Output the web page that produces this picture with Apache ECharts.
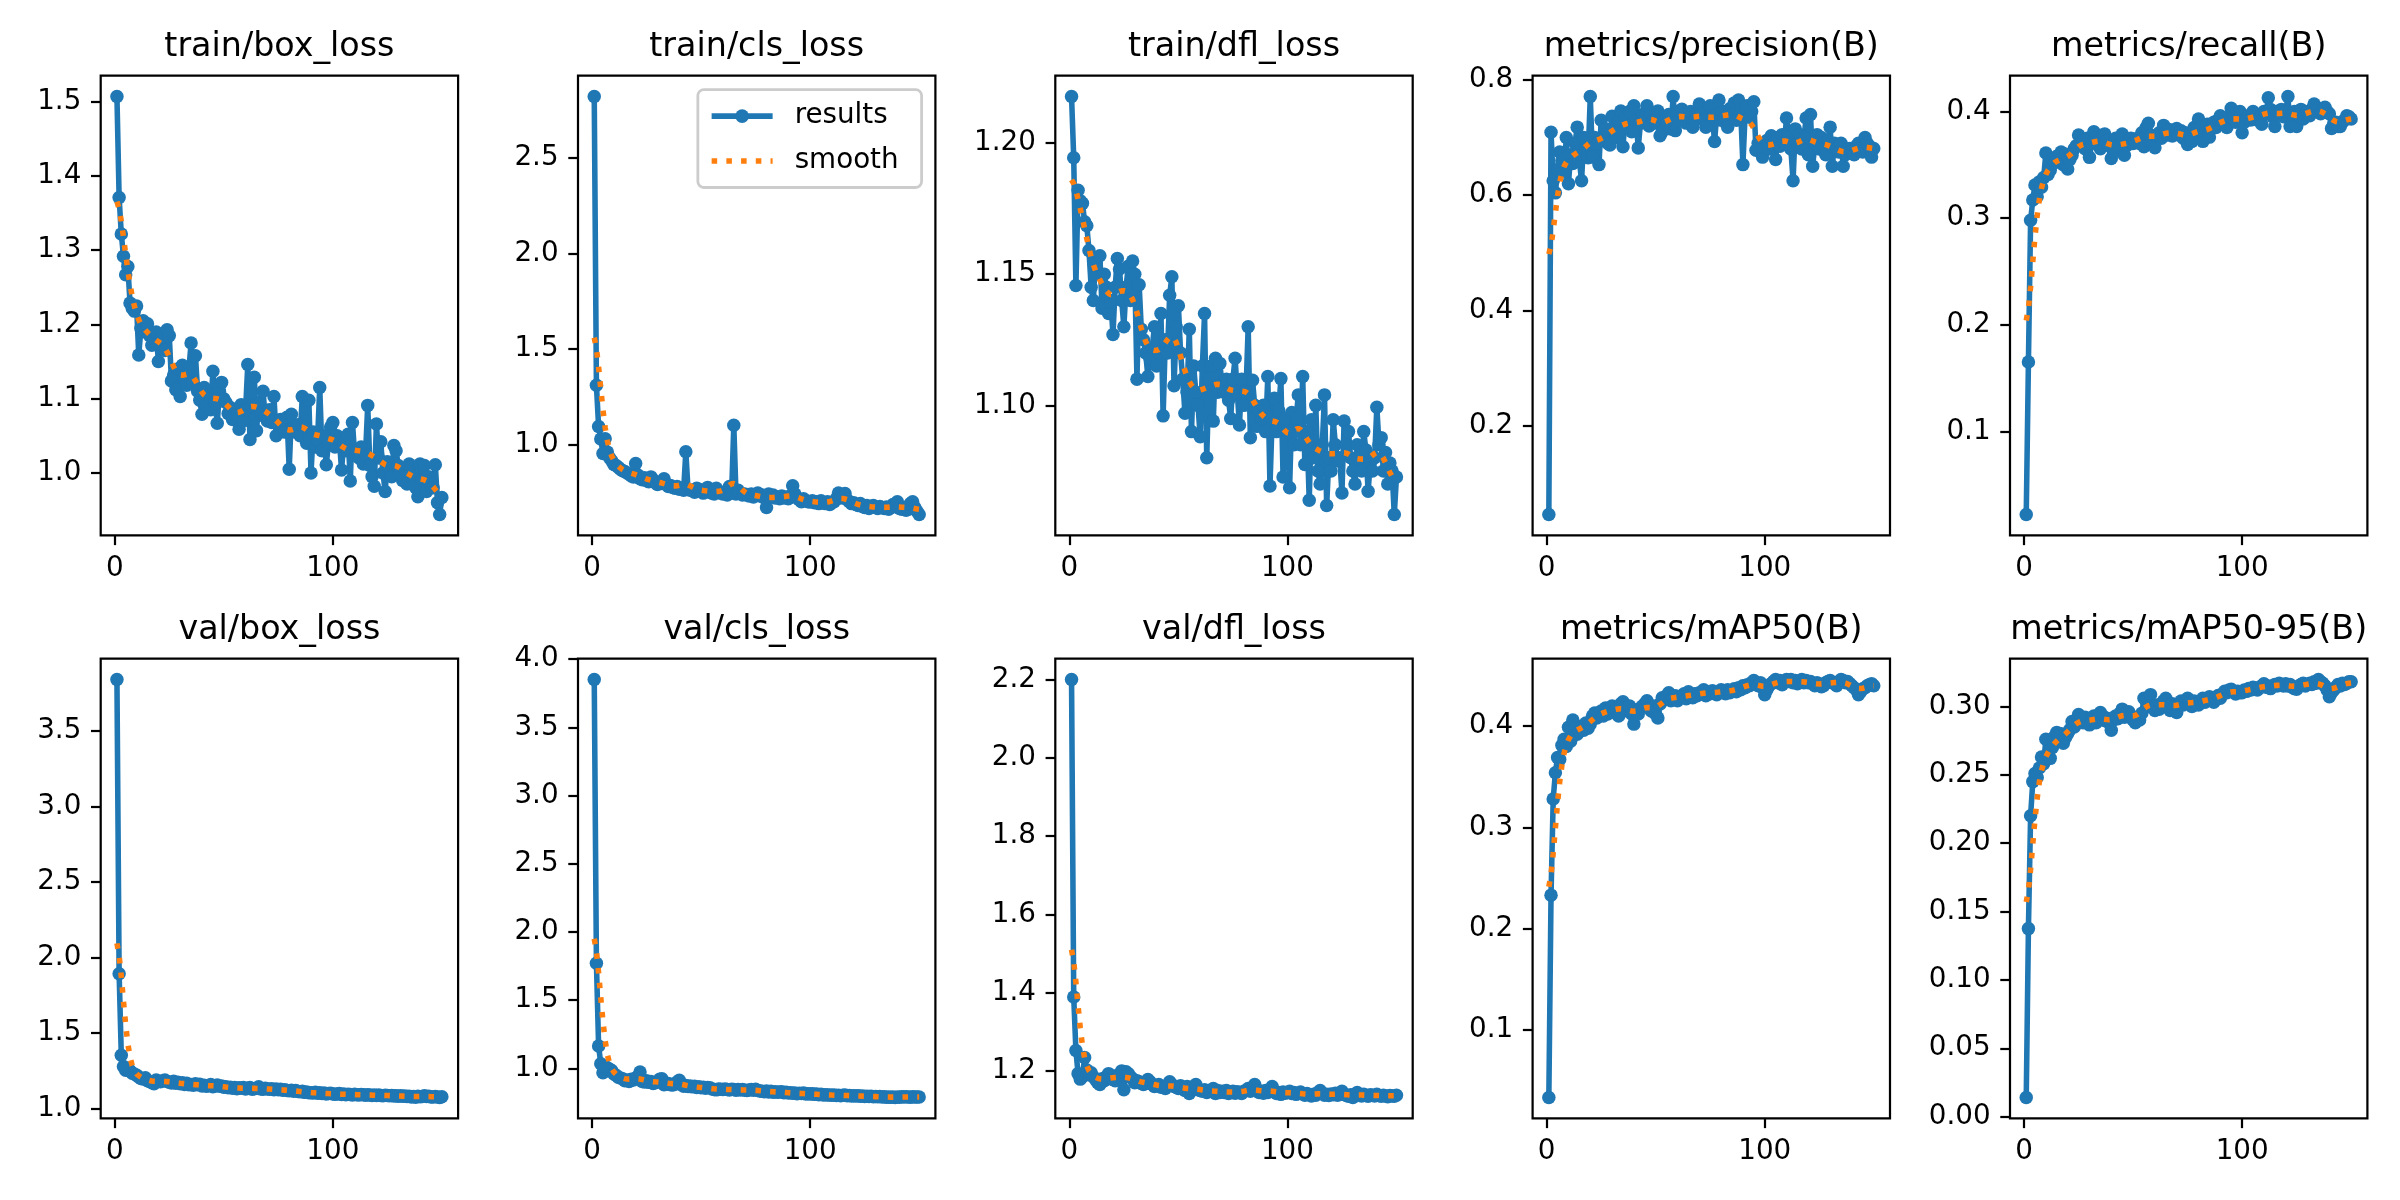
<!DOCTYPE html>
<html><head><meta charset="utf-8">
<script src="https://cdn.jsdelivr.net/npm/echarts@6/dist/echarts.min.js"></script>
<style>html,body{margin:0;padding:0;background:#fff}#c{width:2400px;height:1200px}</style>
</head><body><div id="c"></div>
<script>
// ---------------- DATA ----------------
const epochs = Array.from({length:150},(_,i)=>i+1);

const titles = ['train/box_loss','train/cls_loss','train/dfl_loss','metrics/precision(B)','metrics/recall(B)',
                'val/box_loss','val/cls_loss','val/dfl_loss','metrics/mAP50(B)','metrics/mAP50-95(B)'];

const trainBoxLoss = [1.507,1.371,1.322,1.292,1.267,1.278,1.229,1.222,1.218,1.225,
1.159,1.195,1.205,1.190,1.201,1.185,1.172,1.183,1.190,1.150,
1.180,1.185,1.165,1.193,1.185,1.124,1.132,1.112,1.140,1.103,
1.145,1.130,1.118,1.140,1.175,1.120,1.158,1.110,1.098,1.079,
1.115,1.090,1.105,1.085,1.137,1.095,1.067,1.110,1.122,1.100,
1.095,1.080,1.088,1.072,1.085,1.078,1.059,1.092,1.070,1.085,
1.146,1.045,1.090,1.129,1.057,1.095,1.080,1.110,1.075,1.070,
1.085,1.068,1.103,1.050,1.065,1.072,1.060,1.055,1.075,1.005,
1.079,1.060,1.055,1.065,1.050,1.103,1.062,1.040,1.098,1.000,
1.055,1.035,1.045,1.115,1.030,1.050,1.011,1.040,1.062,1.068,
1.035,1.050,1.045,1.004,1.040,1.030,1.052,0.989,1.068,1.025,
1.030,1.020,1.035,1.012,1.025,1.091,1.010,0.995,0.982,1.066,
1.020,1.042,1.000,0.975,1.015,1.005,0.995,1.037,1.030,1.010,
1.000,0.990,1.005,0.985,1.012,1.008,0.995,0.980,0.968,1.012,
0.990,1.010,0.975,0.995,0.985,0.980,1.011,0.960,0.944,0.967];

const trainClsLoss = [2.822,1.310,1.094,1.028,0.953,1.030,0.960,0.930,0.915,0.895,
0.890,0.880,0.870,0.862,0.858,0.850,0.845,0.835,0.830,0.900,
0.840,0.820,0.815,0.825,0.810,0.805,0.830,0.815,0.800,0.790,
0.800,0.795,0.820,0.790,0.780,0.785,0.775,0.770,0.780,0.765,
0.770,0.760,0.962,0.765,0.760,0.758,0.750,0.770,0.765,0.755,
0.745,0.760,0.775,0.750,0.745,0.740,0.770,0.755,0.745,0.740,
0.750,0.735,0.780,0.745,1.100,0.740,0.760,0.745,0.735,0.740,
0.735,0.730,0.740,0.725,0.735,0.745,0.730,0.735,0.720,0.670,
0.740,0.725,0.735,0.720,0.725,0.715,0.730,0.720,0.725,0.715,
0.730,0.783,0.740,0.720,0.710,0.700,0.715,0.705,0.700,0.698,
0.705,0.695,0.700,0.690,0.705,0.695,0.690,0.700,0.685,0.695,
0.700,0.715,0.746,0.720,0.725,0.743,0.710,0.700,0.690,0.695,
0.685,0.680,0.690,0.675,0.670,0.680,0.665,0.675,0.680,0.670,
0.665,0.675,0.670,0.665,0.672,0.660,0.668,0.685,0.675,0.700,
0.665,0.660,0.670,0.655,0.660,0.690,0.700,0.670,0.650,0.633];

const trainDflLoss = [1.2177,1.1944,1.1457,1.182,1.178,1.177,1.170,1.1685,1.159,1.145,
1.140,1.156,1.150,1.157,1.137,1.150,1.145,1.135,1.140,1.127,
1.145,1.156,1.152,1.140,1.130,1.145,1.153,1.140,1.155,1.150,
1.110,1.146,1.129,1.125,1.120,1.111,1.118,1.122,1.130,1.115,
1.120,1.135,1.096,1.125,1.120,1.142,1.149,1.1075,1.130,1.138,
1.120,1.110,1.097,1.105,1.129,1.090,1.115,1.105,1.100,1.088,
1.115,1.135,1.080,1.110,1.115,1.094,1.118,1.105,1.116,1.108,
1.105,1.110,1.102,1.095,1.110,1.118,1.105,1.0925,1.110,1.100,
1.105,1.130,1.0877,1.1096,1.100,1.092,1.098,1.095,1.100,1.090,
1.111,1.0693,1.095,1.1027,1.090,1.098,1.1102,1.0727,1.095,1.090,
1.0686,1.0973,1.085,1.095,1.104,1.085,1.111,1.0775,1.090,1.0638,
1.0945,1.080,1.100,1.075,1.070,1.085,1.104,1.0618,1.080,1.075,
1.0945,1.085,1.0789,1.080,1.0666,1.094,1.085,1.090,1.080,1.075,
1.070,1.085,1.080,1.075,1.090,1.083,1.0673,1.078,1.075,1.080,
1.0993,1.085,1.0877,1.075,1.082,1.070,1.078,1.075,1.0584,1.0727];

const precisionB = [0.046,0.709,0.625,0.604,0.644,0.675,0.660,0.640,0.700,0.620,
0.670,0.655,0.690,0.718,0.660,0.625,0.700,0.680,0.665,0.771,
0.666,0.700,0.690,0.653,0.730,0.700,0.715,0.690,0.687,0.737,
0.720,0.700,0.730,0.746,0.684,0.735,0.720,0.745,0.710,0.755,
0.730,0.682,0.725,0.740,0.735,0.755,0.720,0.740,0.730,0.725,
0.746,0.703,0.710,0.730,0.725,0.740,0.715,0.771,0.712,0.745,
0.730,0.749,0.740,0.725,0.735,0.745,0.718,0.730,0.740,0.758,
0.740,0.730,0.718,0.745,0.755,0.735,0.693,0.740,0.765,0.730,
0.745,0.735,0.718,0.750,0.740,0.760,0.730,0.765,0.745,0.653,
0.740,0.755,0.735,0.745,0.762,0.678,0.690,0.680,0.666,0.685,
0.695,0.680,0.703,0.690,0.662,0.700,0.685,0.705,0.690,0.734,
0.700,0.680,0.625,0.715,0.690,0.705,0.680,0.700,0.734,0.670,
0.740,0.650,0.690,0.705,0.680,0.700,0.690,0.670,0.695,0.718,
0.650,0.690,0.680,0.675,0.690,0.650,0.670,0.680,0.681,0.675,
0.670,0.685,0.690,0.680,0.675,0.700,0.690,0.685,0.666,0.681];

const recallB = [0.022,0.165,0.298,0.317,0.331,0.320,0.334,0.329,0.338,0.361,
0.341,0.345,0.355,0.352,0.358,0.355,0.362,0.350,0.360,0.346,
0.355,0.359,0.365,0.368,0.378,0.370,0.372,0.365,0.375,0.357,
0.370,0.381,0.375,0.372,0.365,0.378,0.379,0.372,0.368,0.356,
0.362,0.375,0.370,0.368,0.379,0.359,0.368,0.372,0.375,0.370,
0.372,0.375,0.370,0.380,0.367,0.385,0.389,0.378,0.370,0.366,
0.378,0.380,0.375,0.387,0.380,0.378,0.383,0.377,0.380,0.384,
0.378,0.382,0.375,0.380,0.369,0.378,0.372,0.385,0.380,0.393,
0.385,0.372,0.380,0.388,0.376,0.384,0.390,0.385,0.392,0.396,
0.388,0.390,0.385,0.395,0.403,0.392,0.390,0.396,0.400,0.380,
0.390,0.394,0.396,0.392,0.400,0.398,0.392,0.395,0.388,0.400,
0.398,0.413,0.402,0.395,0.386,0.400,0.398,0.402,0.395,0.400,
0.414,0.386,0.398,0.400,0.386,0.395,0.402,0.393,0.398,0.400,
0.396,0.402,0.407,0.400,0.403,0.398,0.400,0.404,0.400,0.398,
0.384,0.388,0.390,0.386,0.386,0.390,0.392,0.396,0.395,0.393];

const valBoxLoss = [3.838,1.893,1.354,1.279,1.255,1.267,1.250,1.235,1.230,1.222,
1.210,1.200,1.196,1.205,1.185,1.180,1.172,1.165,1.190,1.182,
1.178,1.185,1.190,1.180,1.175,1.170,1.182,1.168,1.175,1.165,
1.172,1.160,1.168,1.158,1.160,1.155,1.165,1.158,1.162,1.150,
1.155,1.148,1.152,1.160,1.145,1.150,1.156,1.148,1.150,1.142,
1.145,1.138,1.142,1.135,1.140,1.132,1.138,1.135,1.140,1.130,
1.135,1.140,1.128,1.132,1.136,1.145,1.130,1.128,1.135,1.130,
1.128,1.132,1.125,1.130,1.126,1.128,1.122,1.125,1.120,1.118,
1.122,1.116,1.120,1.114,1.112,1.115,1.108,1.110,1.105,1.106,
1.104,1.108,1.102,1.105,1.100,1.103,1.098,1.100,1.102,1.097,
1.095,1.098,1.100,1.094,1.097,1.092,1.096,1.094,1.091,1.095,
1.093,1.090,1.094,1.092,1.089,1.093,1.090,1.088,1.091,1.087,
1.090,1.088,1.086,1.089,1.087,1.085,1.088,1.084,1.086,1.083,
1.085,1.082,1.084,1.080,1.083,1.078,1.080,1.076,1.082,1.079,
1.081,1.085,1.080,1.083,1.078,1.077,1.080,1.078,1.074,1.079];

const valClsLoss = [3.850,1.771,1.165,1.034,0.969,1.013,1.005,0.995,0.985,0.960,
0.950,0.935,0.930,0.925,0.910,0.915,0.905,0.920,0.915,0.930,
0.940,0.974,0.905,0.900,0.910,0.898,0.905,0.890,0.895,0.900,
0.920,0.925,0.880,0.885,0.890,0.880,0.878,0.885,0.900,0.914,
0.880,0.870,0.875,0.868,0.872,0.865,0.870,0.860,0.865,0.858,
0.862,0.855,0.860,0.858,0.850,0.845,0.843,0.850,0.848,0.845,
0.850,0.846,0.842,0.848,0.845,0.840,0.846,0.842,0.845,0.840,
0.838,0.842,0.845,0.840,0.848,0.838,0.835,0.832,0.830,0.835,
0.828,0.832,0.826,0.830,0.825,0.828,0.830,0.822,0.825,0.820,
0.822,0.818,0.820,0.815,0.818,0.816,0.820,0.812,0.815,0.812,
0.815,0.810,0.812,0.808,0.810,0.806,0.808,0.805,0.806,0.803,
0.805,0.802,0.804,0.800,0.803,0.805,0.800,0.802,0.798,0.800,
0.798,0.800,0.796,0.798,0.795,0.797,0.794,0.796,0.793,0.795,
0.792,0.794,0.790,0.792,0.789,0.791,0.788,0.790,0.787,0.791,
0.789,0.792,0.790,0.793,0.791,0.789,0.792,0.790,0.791,0.790];

const valDflLoss = [2.200,1.389,1.252,1.193,1.179,1.185,1.234,1.202,1.190,1.195,
1.185,1.178,1.170,1.165,1.180,1.175,1.185,1.193,1.180,1.178,
1.175,1.188,1.192,1.200,1.152,1.198,1.193,1.185,1.180,1.170,
1.175,1.172,1.168,1.165,1.170,1.178,1.172,1.165,1.160,1.162,
1.165,1.158,1.160,1.155,1.162,1.172,1.165,1.160,1.158,1.155,
1.162,1.158,1.150,1.160,1.142,1.155,1.160,1.165,1.152,1.150,
1.148,1.152,1.145,1.150,1.148,1.155,1.142,1.150,1.145,1.148,
1.145,1.150,1.142,1.146,1.148,1.143,1.147,1.145,1.142,1.148,
1.150,1.155,1.148,1.152,1.165,1.150,1.145,1.148,1.143,1.150,
1.145,1.152,1.160,1.148,1.142,1.145,1.140,1.146,1.143,1.145,
1.148,1.142,1.145,1.140,1.143,1.146,1.141,1.138,1.142,1.139,
1.136,1.140,1.138,1.145,1.150,1.142,1.138,1.140,1.137,1.141,
1.139,1.143,1.138,1.141,1.148,1.140,1.137,1.135,1.139,1.132,
1.140,1.145,1.138,1.136,1.140,1.137,1.135,1.139,1.138,1.136,
1.140,1.137,1.135,1.138,1.136,1.134,1.137,1.136,1.135,1.138];

const mAP50B = [0.033,0.233,0.328,0.354,0.369,0.367,0.381,0.387,0.380,0.399,
0.385,0.406,0.398,0.392,0.395,0.400,0.396,0.403,0.398,0.402,
0.410,0.413,0.408,0.412,0.415,0.410,0.418,0.412,0.416,0.420,
0.414,0.418,0.410,0.422,0.424,0.418,0.415,0.420,0.412,0.402,
0.416,0.412,0.418,0.420,0.422,0.425,0.418,0.415,0.420,0.412,
0.408,0.422,0.428,0.426,0.430,0.433,0.425,0.428,0.430,0.425,
0.428,0.430,0.432,0.427,0.434,0.430,0.428,0.432,0.430,0.433,
0.432,0.436,0.430,0.434,0.432,0.435,0.433,0.431,0.434,0.436,
0.434,0.432,0.436,0.433,0.435,0.437,0.434,0.438,0.436,0.440,
0.438,0.441,0.440,0.443,0.445,0.442,0.440,0.443,0.438,0.431,
0.436,0.440,0.442,0.444,0.446,0.443,0.445,0.441,0.444,0.446,
0.444,0.446,0.443,0.445,0.442,0.444,0.446,0.443,0.445,0.443,
0.444,0.442,0.440,0.443,0.441,0.439,0.440,0.443,0.444,0.445,
0.443,0.442,0.440,0.444,0.446,0.445,0.443,0.444,0.442,0.440,
0.438,0.436,0.431,0.434,0.437,0.438,0.440,0.441,0.442,0.440];

const mAP5095B = [0.014,0.1375,0.220,0.245,0.251,0.248,0.255,0.263,0.258,0.276,
0.265,0.262,0.270,0.278,0.281,0.276,0.280,0.273,0.277,0.280,
0.283,0.289,0.285,0.288,0.294,0.290,0.288,0.292,0.289,0.2865,
0.290,0.293,0.288,0.292,0.2955,0.290,0.292,0.289,0.291,0.2825,
0.290,0.293,0.291,0.295,0.298,0.292,0.294,0.296,0.293,0.290,
0.288,0.292,0.290,0.295,0.306,0.304,0.300,0.3086,0.300,0.297,
0.301,0.298,0.302,0.304,0.306,0.300,0.297,0.302,0.300,0.2956,
0.302,0.304,0.301,0.303,0.306,0.303,0.300,0.304,0.302,0.301,
0.304,0.306,0.303,0.305,0.307,0.305,0.303,0.306,0.308,0.306,
0.309,0.311,0.310,0.312,0.3125,0.311,0.309,0.311,0.310,0.310,
0.312,0.311,0.313,0.312,0.314,0.313,0.312,0.314,0.315,0.3165,
0.314,0.315,0.313,0.315,0.316,0.315,0.317,0.316,0.315,0.3165,
0.315,0.316,0.314,0.313,0.3125,0.315,0.316,0.317,0.315,0.316,
0.317,0.316,0.318,0.317,0.3196,0.318,0.317,0.315,0.312,0.307,
0.310,0.312,0.314,0.316,0.315,0.317,0.316,0.317,0.318,0.318];

const xTicks = [0, 100];
const yTicks = [
  [1.0,1.1,1.2,1.3,1.4,1.5],
  [1.0,1.5,2.0,2.5],
  [1.10,1.15,1.20],
  [0.2,0.4,0.6,0.8],
  [0.1,0.2,0.3,0.4],
  [1.0,1.5,2.0,2.5,3.0,3.5],
  [1.0,1.5,2.0,2.5,3.0,3.5,4.0],
  [1.2,1.4,1.6,1.8,2.0,2.2],
  [0.1,0.2,0.3,0.4],
  [0.00,0.05,0.10,0.15,0.20,0.25,0.30]
];
const yTickDecimals = [1,1,2,1,1,1,1,1,1,2];
const seriesValues = [trainBoxLoss,trainClsLoss,trainDflLoss,precisionB,recallB,
                      valBoxLoss,valClsLoss,valDflLoss,mAP50B,mAP5095B];

// ---------------- LAYOUT / STYLE ----------------
const FONT = 'DejaVu Sans';
const PX = 200/72;               // points -> px at 200 dpi
const colLeft = [100.7, 578.0, 1055.3, 1532.6, 2010.0];
const rowTop = [75.7, 658.7];
const AX_W = 357.4, AX_H = 459.7;
const BLUE = '#1f77b4', ORANGE = '#ff7f0e';

function gaussSmooth(y, sigma){
  const r = Math.floor(4*sigma+0.5);
  const w=[]; let s=0;
  for(let k=-r;k<=r;k++){const v=Math.exp(-k*k/(2*sigma*sigma)); w.push(v); s+=v;}
  const n=y.length, out=[];
  for(let i=0;i<n;i++){
    let acc=0;
    for(let k=-r;k<=r;k++){
      let j=i+k;
      while(j<0||j>=n){ if(j<0) j=-j-1; if(j>=n) j=2*n-j-1; }
      acc+=w[k+r]*y[j];
    }
    out.push(acc/s);
  }
  return out;
}

const xMin = epochs[0] - 0.05*(epochs[epochs.length-1]-epochs[0]);
const xMax = epochs[epochs.length-1] + 0.05*(epochs[epochs.length-1]-epochs[0]);

const grids=[], xAxes=[], yAxes=[], series=[], titleArr=[];
seriesValues.forEach((vals, i)=>{
  const r = Math.floor(i/5), c = i%5;
  const sm = gaussSmooth(vals, 3);
  const all = vals.concat(sm);
  const lo = Math.min(...all), hi = Math.max(...all);
  const yMin = lo - 0.05*(hi-lo), yMax = hi + 0.05*(hi-lo);
  const ticks = yTicks[i].filter(v=>v>=yMin-1e-9 && v<=yMax+1e-9);
  const dec = yTickDecimals[i];
  grids.push({left:colLeft[c], top:rowTop[r], width:AX_W, height:AX_H,
    show:true, borderColor:'#000', borderWidth:0.8*PX, backgroundColor:'#fff', containLabel:false});
  xAxes.push({gridIndex:i, type:'value', min:xMin, max:xMax,
    axisLine:{show:false, onZero:false},
    splitLine:{show:false},
    axisTick:{show:true, customValues:xTicks, length:3.5*PX, lineStyle:{color:'#000', width:0.8*PX}},
    axisLabel:{show:true, customValues:xTicks, margin:19.4, fontSize:10*PX, color:'#000', fontFamily:FONT,
      formatter:v=>String(Math.round(v))}
  });
  yAxes.push({gridIndex:i, type:'value', min:yMin, max:yMax,
    axisLine:{show:false, onZero:false},
    splitLine:{show:false},
    axisTick:{show:true, customValues:ticks, length:3.5*PX, lineStyle:{color:'#000', width:0.8*PX}},
    axisLabel:{show:true, customValues:ticks, margin:19.4, fontSize:10*PX, color:'#000', fontFamily:FONT,
      formatter:v=>Number(v).toFixed(dec)}
  });
  series.push({name:'results', type:'line', xAxisIndex:i, yAxisIndex:i,
    data: epochs.map((e,k)=>[e, vals[k]]),
    symbol:'circle', symbolSize:13.5, showAllSymbol:true,
    itemStyle:{color:BLUE}, lineStyle:{color:BLUE, width:2*PX}, z:2, silent:true});
  series.push({name:'smooth', type:'line', xAxisIndex:i, yAxisIndex:i,
    data: epochs.map((e,k)=>[e, sm[k]]),
    symbol:'none', itemStyle:{color:ORANGE},
    lineStyle:{color:ORANGE, width:2*PX, type:[1*2*PX, 1.65*2*PX], cap:'butt'}, z:3, silent:true});
  titleArr.push({text:titles[i], left:colLeft[c]+AX_W/2, top:(r===0?31:613.8), textAlign:'center', padding:0,
    textStyle:{fontSize:12*PX, fontWeight:'normal', color:'#000', fontFamily:FONT}});
});

const chart = echarts.init(document.getElementById('c'), null, {renderer:'canvas', width:2400, height:1200});
chart.setOption({
  backgroundColor:'#fff',
  animation:false,
  title:titleArr,
  grid:grids, xAxis:xAxes, yAxis:yAxes, series:series,
  legend:{
    data:[{name:'results'}, {name:'smooth', itemStyle:{opacity:0}}],
    orient:'vertical', right:2400-921.6, top:89.6,
    selectedMode:false,
    itemWidth:61, itemHeight:17, itemGap:13.9,
    padding:[11,23,11,11],
    borderColor:'#cccccc', borderWidth:1*PX, borderRadius:6,
    backgroundColor:'rgba(255,255,255,0.8)',
    lineStyle:{width:2*PX},
    textStyle:{fontSize:10*PX, color:'#000', fontFamily:FONT, lineHeight:31, padding:[0,0,0,17]}
  }
});
</script></body></html>
